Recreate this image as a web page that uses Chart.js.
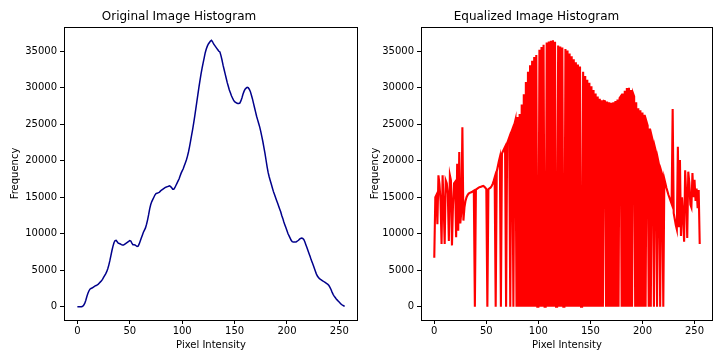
<!DOCTYPE html>
<html>
<head>
<meta charset="utf-8">
<script src="https://cdn.jsdelivr.net/npm/chart.js@4.4.1/dist/chart.umd.min.js"></script>
<style>
  body { margin: 0; background: #fff; }
  #wrap { position: relative; width: 720px; height: 352px; }
  canvas { position: absolute; top: 0; }
  #left { left: 0; }
  #right { left: 360px; }
</style>
</head>
<body>
<div id="wrap">
  <canvas id="left" width="360" height="352"></canvas>
  <canvas id="right" width="360" height="352"></canvas>
</div>
<script>
// pixel intensity bins 0..255
const intensity = Array.from({ length: 256 }, (_, i) => i);

const xTicks = [0, 50, 100, 150, 200, 250];
const yTicks = [0, 5000, 10000, 15000, 20000, 25000, 30000, 35000];

// one value per bin
const originalCounts = [
    0, 0, 0, 0, 0, 50, 200, 450, 850, 1350,
    1800, 2150, 2400, 2500, 2550, 2650, 2750, 2850, 2900, 3000,
    3100, 3250, 3400, 3550, 3750, 4000, 4250, 4500, 4800, 5200,
    5700, 6300, 7000, 7700, 8300, 8800, 9050, 9100, 8900, 8700,
    8650, 8600, 8500, 8450, 8450, 8550, 8650, 8750, 8850, 8950,
    9050, 9000, 8700, 8500, 8500, 8450, 8350, 8250, 8300, 8600,
    9000, 9400, 9800, 10200, 10500, 10800, 11300, 11900, 12600, 13400,
    14000, 14400, 14700, 15000, 15300, 15500, 15550, 15600, 15650, 15800,
    15950, 16050, 16150, 16250, 16350, 16400, 16450, 16500, 16550, 16450,
    16300, 16100, 16100, 16300, 16600, 16900, 17200, 17500, 17900, 18300,
    18600, 18900, 19300, 19700, 20100, 20600, 21200, 21900, 22700, 23500,
    24300, 25200, 26100, 27100, 28100, 29100, 30100, 31000, 31900, 32700,
    33400, 34100, 34800, 35300, 35700, 36000, 36200, 36400, 36500, 36300,
    36000, 35800, 35600, 35400, 35200, 35000, 34900, 34400, 33800, 33100,
    32500, 31900, 31300, 30700, 30200, 29700, 29300, 28900, 28600, 28300,
    28100, 28000, 27900, 27850, 27850, 27900, 28200, 28600, 29100, 29500,
    29800, 29950, 30050, 30000, 29800, 29500, 29000, 28500, 27900, 27300,
    26700, 26100, 25600, 25100, 24600, 24000, 23300, 22600, 21800, 21000,
    20100, 19200, 18400, 17800, 17300, 16800, 16300, 15800, 15400, 15000,
    14600, 14200, 13800, 13400, 13000, 12500, 12100, 11600, 11200, 10800,
    10400, 10000, 9700, 9400, 9100, 8900, 8850, 8850, 8850, 8900,
    9000, 9100, 9250, 9350, 9400, 9350, 9200, 8900, 8500, 8100,
    7700, 7300, 6900, 6450, 6100, 5700, 5300, 4900, 4500, 4200,
    4000, 3850, 3750, 3650, 3550, 3450, 3350, 3250, 3150, 3050,
    2900, 2650, 2350, 2000, 1700, 1450, 1250, 1050, 900, 750,
    600, 450, 300, 200, 130, 50
];

// right panel: empty bins drop to 0
const equalizedCounts = [
    6700, 15000, 15300, 11300, 18000, 16800, 14500, 8600, 18000, 14000,
    8600, 17300, 16900, 15500, 9000, 18000, 17300, 8400, 14000, 16900,
    17100, 9500, 19600, 10400, 21200, 11400, 13000, 24600, 11800, 13600,
    14500, 15000, 15300, 15500, 15600, 15650, 15700, 15800, 15900, 0,
    16050, 16150, 16250, 16350, 16400, 16450, 16500, 16550, 16450, 16300,
    16100, 0, 16100, 16200, 16300, 16500, 16800, 17200, 17700, 0,
    18500, 19200, 19900, 20500, 0, 21000, 21300, 21600, 21900, 0,
    22400, 22800, 23200, 0, 23900, 24300, 0, 25000, 25600, 0,
    26000, 0, 26400, 0, 27700, 0, 29100, 0, 30800, 0,
    32200, 0, 33100, 0, 33700, 0, 34200, 0, 34500, 0,
    0, 35200, 0, 35600, 0, 35900, 0, 0, 36200, 0,
    36350, 0, 36450, 0, 36500, 0, 36300, 0, 0, 35800,
    0, 35650, 0, 35500, 0, 0, 35300, 0, 35100, 0,
    34700, 0, 34300, 0, 33900, 0, 33500, 0, 33200, 0,
    32900, 0, 0, 32200, 0, 31600, 0, 31100, 0, 30700,
    0, 30200, 0, 29700, 0, 29200, 0, 28800, 0, 28500,
    0, 28300, 0, 28200, 28150, 0, 28100, 0, 28000, 0,
    27950, 0, 28000, 0, 28200, 0, 28400, 0, 28600, 28800,
    0, 29200, 0, 29600, 0, 29950, 0, 30000, 0, 29700,
    0, 29200, 28800, 0, 28000, 0, 27200, 0, 26900, 0,
    26600, 0, 26300, 0, 25300, 24800, 0, 24400, 0, 23300,
    22700, 0, 21800, 21200, 0, 20100, 19400, 0, 18600, 18100,
    0, 17500, 16900, 16300, 15800, 15300, 14900, 14500, 14100, 27100,
    12800, 12000, 11200, 10600, 21900, 10900, 20100, 9700, 15000, 12500,
    8900, 18700, 15500, 9400, 18500, 17000, 14000, 13600, 18300, 15000,
    17400, 14500, 16200, 13500, 16000, 8600
];

const font = 'DejaVu Sans';

// box round the plot area, like matplotlib spines
const frame = {
    id: 'frame',
    afterDraw(chart) {
        const a = chart.chartArea;
        const ctx = chart.ctx;
        ctx.save();
        ctx.strokeStyle = '#000';
        ctx.lineWidth = 1;
        ctx.strokeRect(Math.round(a.left) + 0.5, Math.round(a.top) + 0.5,
            Math.round(a.right - a.left) - 1, Math.round(a.bottom - a.top));
        ctx.restore();
    }
};

function makeChart(id, title, values, color, lineWidth, yWidth, rightPad) {
    return new Chart(document.getElementById(id), {
        type: 'line',
        data: {
            datasets: [{
                data: values.map((v, i) => ({ x: intensity[i], y: v })),
                borderColor: color,
                borderWidth: lineWidth,
                pointRadius: 0,
                tension: 0,
                fill: false
            }]
        },
        options: {
            responsive: false,
            animation: false,
            devicePixelRatio: 1,
            layout: { padding: { left: 0, right: rightPad, top: 0, bottom: 0 } },
            plugins: {
                legend: { display: false },
                tooltip: { enabled: false },
                title: {
                    display: true,
                    text: title,
                    color: '#000',
                    font: { family: font, size: 12, weight: 'normal' },
                    padding: { top: 9.6, bottom: 3 }
                }
            },
            scales: {
                x: {
                    type: 'linear',
                    min: -12.75,
                    max: 267.75,
                    afterBuildTicks: s => { s.ticks = xTicks.map(v => ({ value: v })); },
                    afterFit: s => { s.height = 32; },
                    border: { display: false },
                    grid: { drawOnChartArea: false, drawTicks: true, tickLength: 4, color: '#000' },
                    ticks: { color: '#000', font: { family: font, size: 10 }, padding: 1, maxRotation: 0, autoSkip: false },
                    title: { display: true, text: 'Pixel Intensity', color: '#000', font: { family: font, size: 10 }, padding: { top: 0, bottom: 1 } }
                },
                y: {
                    min: -1825,
                    max: 38325,
                    afterBuildTicks: s => { s.ticks = yTicks.map(v => ({ value: v })); },
                    afterFit: s => { s.width = yWidth; },
                    border: { display: false },
                    grid: { drawOnChartArea: false, drawTicks: true, tickLength: 4, color: '#000' },
                    ticks: { color: '#000', font: { family: font, size: 10 }, padding: 3, callback: v => String(v) },
                    title: { display: true, text: 'Frequency', color: '#000', font: { family: font, size: 10 }, padding: { top: 9, bottom: 0 } }
                }
            }
        },
        plugins: [frame]
    });
}

makeChart('left', 'Original Image Histogram', originalCounts, '#00008b', 1.5, 64, 2);
makeChart('right', 'Equalized Image Histogram', equalizedCounts, '#ff0000', 2.1, 61, 7);
</script>
</body>
</html>
